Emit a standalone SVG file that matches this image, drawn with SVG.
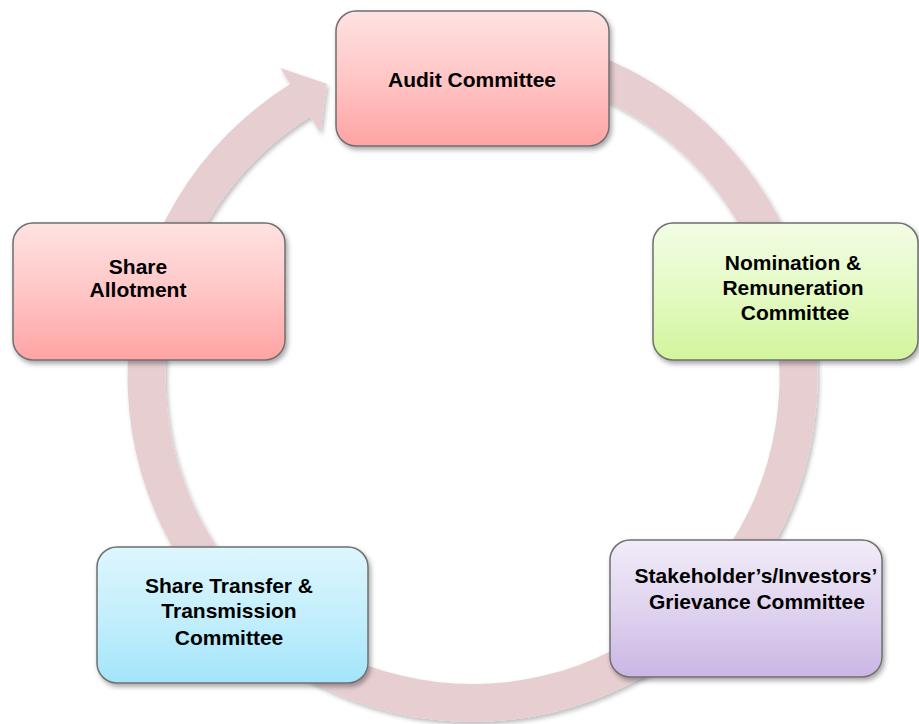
<svg xmlns="http://www.w3.org/2000/svg" width="919" height="724" viewBox="0 0 919 724">
<defs>
<filter id="sh" x="-10%" y="-10%" width="130%" height="130%">
<feDropShadow dx="2" dy="3" stdDeviation="2.5" flood-color="#000" flood-opacity="0.35"/>
</filter>
<filter id="shr" x="-10%" y="-10%" width="130%" height="130%">
<feDropShadow dx="2" dy="3" stdDeviation="2" flood-color="#000" flood-opacity="0.25"/>
</filter>
<linearGradient id="gPink" x1="0" y1="0" x2="0" y2="1">
<stop offset="0" stop-color="#ffe2e2"/>
<stop offset="0.5" stop-color="#ffc6c6"/>
<stop offset="1" stop-color="#ffa3a3"/>
</linearGradient>
<linearGradient id="gGreen" x1="0" y1="0" x2="0" y2="1">
<stop offset="0" stop-color="#f2fde4"/>
<stop offset="0.5" stop-color="#e4fac4"/>
<stop offset="1" stop-color="#d2f59c"/>
</linearGradient>
<linearGradient id="gPurple" x1="0" y1="0" x2="0" y2="1">
<stop offset="0" stop-color="#f1ecf8"/>
<stop offset="0.5" stop-color="#e0d4ef"/>
<stop offset="1" stop-color="#cbb6e4"/>
</linearGradient>
<linearGradient id="gBlue" x1="0" y1="0" x2="0" y2="1">
<stop offset="0" stop-color="#ddf6fd"/>
<stop offset="0.5" stop-color="#c4effc"/>
<stop offset="1" stop-color="#a3e5fb"/>
</linearGradient>
</defs>
<style>
.box{stroke:#6f6f6f;stroke-width:1.5;filter:url(#sh)}
.lbl{font-family:"Liberation Sans",Arial,sans-serif;font-weight:bold;font-size:21px;fill:#000;text-anchor:middle}
.ring{fill:#e7ced1;filter:url(#shr)}
</style>
<rect width="919" height="724" fill="#fff"/>
<g id="connectors">
<path class="ring" d="M 502.6 33.3 A 345 345 0 1 1 290.2 84.1 L 280.3 67.9 L 326.7 83.8 L 320.5 132.5 L 310.3 116.4 A 307 307 0 1 0 499.3 71.2 Z"/>
</g>
<g id="audit">
<rect class="box" x="336" y="11" width="273" height="135" rx="20" fill="url(#gPink)"/>
<text class="lbl" x="472" y="87">Audit Committee</text>
</g>
<g id="nomination">
<rect class="box" x="653" y="223" width="265" height="137" rx="20" fill="url(#gGreen)"/>
<text class="lbl" x="793" y="270">Nomination &amp;</text>
<text class="lbl" x="793" y="295">Remuneration</text>
<text class="lbl" x="795" y="320">Committee</text>
</g>
<g id="stakeholder">
<rect class="box" x="610" y="540" width="272" height="137" rx="20" fill="url(#gPurple)"/>
<text class="lbl" x="756" y="583">Stakeholder’s/Investors’</text>
<text class="lbl" x="757" y="609">Grievance Committee</text>
</g>
<g id="sharetransfer">
<rect class="box" x="97" y="547" width="271" height="136" rx="20" fill="url(#gBlue)"/>
<text class="lbl" x="229" y="593">Share Transfer &amp;</text>
<text class="lbl" x="229" y="618">Transmission</text>
<text class="lbl" x="229" y="645">Committee</text>
</g>
<g id="allotment">
<rect class="box" x="13" y="223" width="272" height="137" rx="20" fill="url(#gPink)"/>
<text class="lbl" x="138" y="274">Share</text>
<text class="lbl" x="138" y="297">Allotment</text>
</g>
</svg>
